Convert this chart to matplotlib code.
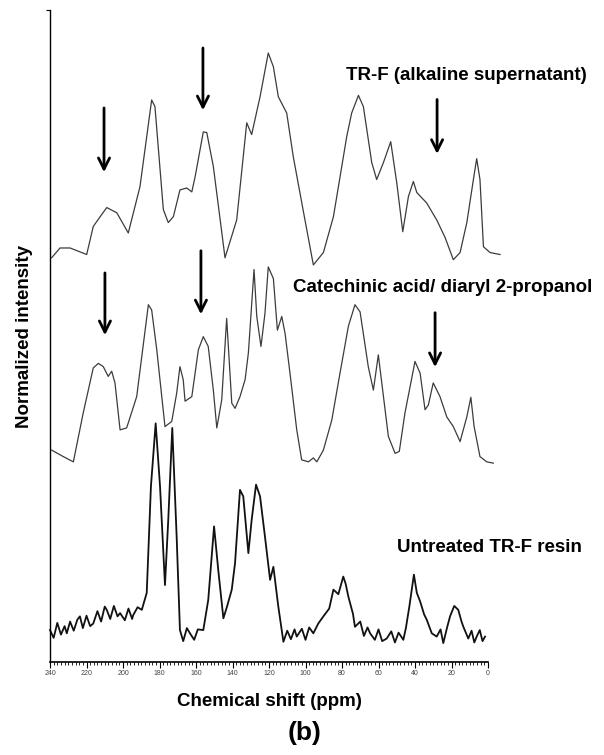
import numpy as np
import matplotlib.pyplot as plt
from matplotlib.ticker import MultipleLocator

plt.rcParams['font.family'] = ['Liberation Sans', 'DejaVu Sans']

# 谱线数据：化学位移 (ppm) 与相对强度 (任意单位)
top_ppm = [239.1, 234.5, 229.0, 219.9, 216.3, 212.0, 208.9, 203.4, 197.1, 190.7, 184.3, 182.5,
           177.9, 175.2, 172.4, 168.8, 165.1, 162.3, 160.5, 156.0, 154.1, 150.5, 144.1, 137.7,
           132.2, 129.5, 124.9, 120.4, 117.6, 114.9, 110.3, 106.7, 100.3, 95.7, 90.2, 84.7,
           77.4, 74.7, 71.0, 68.3, 63.7, 61.0, 57.3, 53.3, 50.0, 46.7, 43.6, 40.9, 39.0,
           33.6, 28.1, 23.5, 19.0, 15.3, 11.6, 8.0, 6.2, 4.4, 2.5, -1.1, -6.6]
top_int = [0.0, 1.5, 1.5, 0.5, 4.8, 6.5, 7.7, 6.9, 3.8, 10.9, 24.2, 23.2,
           7.4, 5.4, 6.3, 10.4, 10.7, 10.1, 12.4, 19.3, 19.2, 14.0, 0.0, 5.8,
           20.7, 18.9, 24.7, 31.4, 29.3, 24.7, 22.2, 15.5, 5.8, -1.1, 0.8, 6.3,
           18.6, 22.2, 24.9, 23.2, 14.6, 12.0, 14.6, 17.8, 11.5, 4.0, 9.4, 11.7, 10.0,
           8.4, 5.8, 3.1, -0.3, 0.8, 5.4, 12.0, 15.2, 12.0, 1.7, 0.8, 0.5]

mid_ppm = [239.1, 232.7, 227.2, 221.8, 216.3, 213.5, 210.8, 208.1, 206.2, 204.4, 201.6, 198.0,
           192.5, 186.1, 184.3, 181.5, 177.0, 173.3, 170.6, 168.8, 167.0, 166.0, 162.3, 158.7,
           156.0, 153.3, 150.5, 148.6, 145.9, 143.2, 140.4, 138.6, 135.9, 133.1, 131.3, 128.2,
           126.7, 124.4, 122.2, 120.4, 117.6, 115.4, 113.0, 111.2, 108.5, 104.8, 102.1, 98.4,
           95.7, 93.8, 90.2, 85.6, 81.1, 76.5, 72.9, 70.1, 65.6, 62.8, 60.1, 58.2, 54.6,
           50.9, 48.6, 45.5, 40.0, 37.2, 34.5, 32.7, 30.0, 26.3, 22.6, 19.0, 15.3, 11.6,
           9.4, 7.6, 4.4, 0.7, -2.9]
mid_int = [1.8, 0.8, 0.0, 7.5, 14.4, 15.1, 14.6, 13.1, 13.9, 12.1, 4.9, 5.2,
           10.0, 24.1, 23.3, 17.2, 5.4, 6.2, 10.5, 14.6, 12.6, 9.3, 10.0, 17.2,
           19.2, 17.7, 11.0, 5.2, 9.5, 22.0, 9.0, 8.2, 10.0, 12.6, 16.7, 29.5,
           22.3, 17.7, 22.8, 29.9, 28.1, 20.2, 22.3, 19.7, 13.6, 4.9, 0.3, 0.0,
           0.6, 0.0, 1.8, 6.4, 13.6, 20.8, 24.1, 23.0, 14.6, 11.0, 16.4, 12.1, 3.9,
           1.3, 1.6, 7.5, 15.4, 13.6, 8.0, 8.7, 12.1, 10.0, 6.9, 5.4, 3.1, 6.9,
           9.9, 5.4, 0.8, 0.0, -0.2]

bot_ppm = [240.0, 238.0, 236.0, 234.0, 232.0, 230.8, 229.0, 227.0, 225.0, 223.6, 222.0, 220.0,
           218.0, 216.3, 214.0, 212.0, 210.0, 208.9, 207.0, 205.0, 203.0, 201.6, 199.0, 197.0,
           195.0, 194.4, 192.0, 189.7, 187.0, 184.7, 182.1, 179.7, 177.0, 175.2, 173.0, 170.6,
           168.8, 167.0, 165.0, 163.3, 161.0, 159.0, 156.0, 153.3, 150.1, 147.8, 145.0, 143.0,
           140.4, 138.6, 135.9, 134.1, 131.3, 129.5, 127.1, 124.9, 122.2, 119.4, 117.6, 114.9,
           112.1, 110.0, 108.0, 106.0, 104.8, 102.0, 100.0, 98.0, 95.7, 93.0, 90.2, 87.0,
           84.7, 82.0, 79.3, 78.0, 76.5, 74.0, 72.9, 70.0, 68.0, 66.0, 64.6, 62.0, 60.0,
           58.0, 55.5, 53.0, 51.0, 49.0, 46.4, 45.0, 43.1, 40.6, 39.0, 37.2, 35.0, 33.6,
           30.8, 28.1, 26.0, 24.5, 22.5, 20.8, 18.5, 16.3, 14.5, 13.5, 10.8, 9.0, 7.5,
           6.2, 4.5, 3.0, 1.6]
bot_int = [0.9, -0.3, 2.0, 0.2, 1.5, 0.4, 2.2, 0.8, 2.5, 3.0, 1.2, 3.1,
           1.5, 1.9, 3.8, 2.2, 4.5, 4.0, 2.6, 4.6, 3.0, 3.5, 2.4, 4.2,
           2.6, 3.2, 4.4, 4.0, 6.6, 22.9, 32.6, 22.9, 7.8, 17.8, 31.9, 15.2,
           0.9, -0.8, 1.2, 0.4, -0.6, 1.0, 0.9, 5.5, 16.8, 10.1, 2.7, 4.5,
           7.1, 11.2, 22.4, 21.4, 12.7, 17.8, 23.2, 21.4, 15.2, 8.6, 10.6, 4.5,
           -0.9, 0.8, -0.5, 1.0, -0.1, 1.1, -0.6, 1.3, 0.4, 1.9, 3.0, 4.2,
           7.1, 6.4, 9.1, 8.0, 6.0, 3.4, 1.4, 2.2, 0.0, 1.3, 0.4, -0.6, 1.0,
           -0.8, -0.4, 0.7, -1.0, 0.5, -0.6, 1.2, 4.5, 9.4, 6.6, 5.3, 3.3, 2.5,
           0.4, -0.1, 1.0, -1.1, 1.2, 3.0, 4.6, 4.0, 2.2, 1.4, -0.4, 0.8, -1.0,
           -0.1, 0.9, -0.8, -0.1]

offsets = [62.0, 30.7, 4.0]
labels = ['TR-F (alkaline supernatant)', 'Catechinic acid/ diaryl 2-propanol', 'Untreated TR-F resin']
label_pos = [(77.8, 90.0), (106.8, 57.4), (49.8, 17.5)]

# 箭头：位置 (ppm)、起点、终点
arrow_x = [210.4, 156.2, 27.9, 209.9, 157.3, 29.0]
arrow_y0 = [85.4, 94.6, 86.7, 60.1, 63.5, 54.0]
arrow_y1 = [74.7, 84.2, 77.5, 49.7, 52.9, 44.8]

fig = plt.figure(figsize=(6.04, 7.55), dpi=100)
ax = fig.add_axes([50 / 604, 93 / 755, 438 / 604, 652 / 755])

ax.plot(top_ppm, np.array(top_int) + offsets[0], color='#3c3c3c', lw=0.9, clip_on=False)
ax.plot(mid_ppm, np.array(mid_int) + offsets[1], color='#3c3c3c', lw=0.9, clip_on=False)
ax.plot(bot_ppm, np.array(bot_int) + offsets[2], color='#111111', lw=1.3, clip_on=False)

for (x, y), lab in zip(label_pos, labels):
    ax.text(x, y, lab, fontsize=13.5, fontweight='bold', ha='left', va='center', clip_on=False)

for x, y0, y1 in zip(arrow_x, arrow_y0, arrow_y1):
    ax.annotate('', xy=(x, y1), xytext=(x, y0),
                arrowprops=dict(arrowstyle='->,head_length=0.8,head_width=0.4', lw=2, color='black'))

ax.set_xlim(240, 0)
ax.set_ylim(0, 100)
ax.spines['top'].set_visible(False)
ax.spines['right'].set_visible(False)
ax.spines['left'].set_linewidth(1.0)
ax.spines['bottom'].set_linewidth(1.2)
ax.xaxis.set_major_locator(MultipleLocator(20))
ax.xaxis.set_minor_locator(MultipleLocator(2))
ax.tick_params(axis='x', which='major', length=4, width=0.8, labelsize=5, pad=2, labelcolor='#444444')
ax.tick_params(axis='x', which='minor', length=2.5, width=0.6)
ax.set_yticks([100])
ax.set_yticklabels([])
ax.tick_params(axis='y', length=3, width=0.8)

ax.set_ylabel('Normalized intensity', fontsize=13.5, fontweight='bold', labelpad=6)
ax.set_xlabel('Chemical shift (ppm)', fontsize=13.5, fontweight='bold', labelpad=11)
fig.text(305 / 604, 1 - 733 / 755, '(b)', fontsize=19, fontweight='bold', ha='center', va='center')

plt.savefig('out.png', dpi=100)
